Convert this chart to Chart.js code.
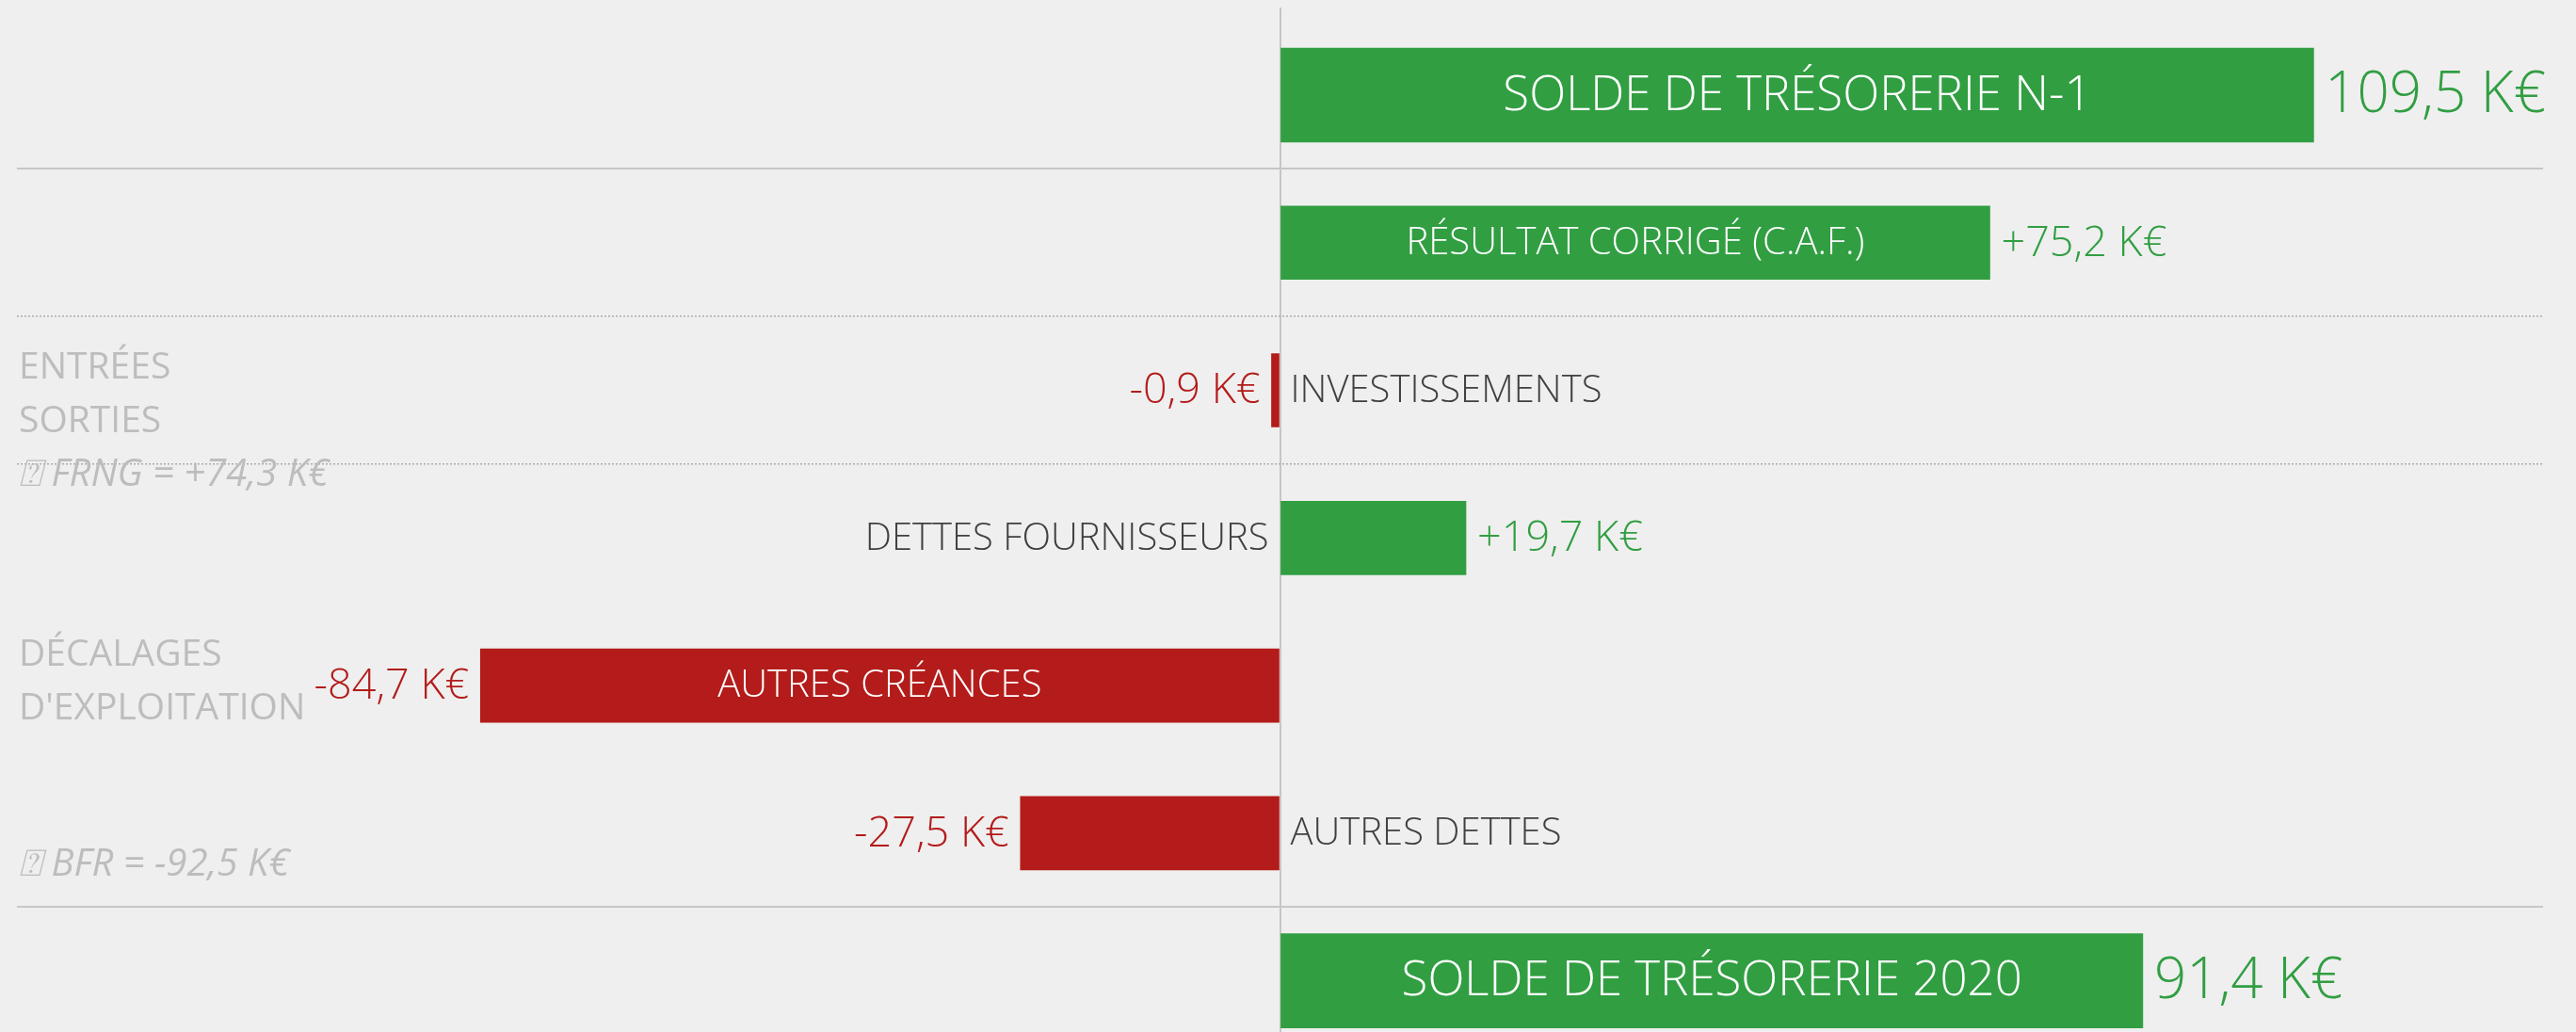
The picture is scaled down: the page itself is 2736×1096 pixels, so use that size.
<!DOCTYPE html>
<html lang="fr">
<head>
<meta charset="utf-8">
<script src="https://cdn.jsdelivr.net/npm/chart.js@4.4.1/dist/chart.umd.min.js"></script>
<style>
    html, body { margin: 0; padding: 0; background: #efefef; overflow: hidden; }
    #wrap { position: relative; width: 2736px; height: 1120px; }
</style>
</head>
<body>
<div id="wrap"><canvas id="myChart"></canvas></div>
<script>
const categories = [
    'SOLDE DE TRÉSORERIE N-1',
    'RÉSULTAT CORRIGÉ (C.A.F.)',
    'INVESTISSEMENTS',
    'DETTES FOURNISSEURS',
    'AUTRES CRÉANCES',
    'AUTRES DETTES',
    'SOLDE DE TRÉSORERIE 2020'
]
// K€
const soldes = [109.5, null, null, null, null, null, 91.4]
const flux = [null, 75.2, -0.9, 19.7, -84.7, -27.5, null]

const notesFrng = ['ENTRÉES', 'SORTIES', '⍰ FRNG = +74,3 K€']
const notesBfr = ['DÉCALAGES', "D'EXPLOITATION"]
const noteBfrTotal = '⍰ BFR = -92,5 K€'

const green = '#319e42'
const red = '#b31c1a'
const lineGray = '#c6c6c6'
const font = '"Open Sans", "Noto Sans", sans-serif'

function fmt(v, signed) {
    const s = Math.abs(v).toFixed(1).replace('.', ',') + ' K€'
    if (!signed) return s
    return (v < 0 ? '-' : '+') + s
}

// category names + values next to / inside the bars
const barLabels = {
    id: 'barLabels',
    afterDatasetsDraw(chart) {
        const ctx = chart.ctx
        ctx.save()
        ctx.textBaseline = 'middle'
        chart.data.datasets.forEach((ds, di) => {
            const total = di === 0
            chart.getDatasetMeta(di).data.forEach((bar, i) => {
                const v = ds.data[i]
                if (v === null || v === undefined) return
                const w = Math.abs(bar.x - bar.base)
                const y = bar.y + 1

                ctx.font = `300 ${total ? 51 : 40}px ${font}`
                if (w > 400) {
                    ctx.fillStyle = '#ffffff'
                    ctx.textAlign = 'center'
                    ctx.fillText(categories[i], (bar.x + bar.base) / 2, y)
                } else if (v < 0) {
                    ctx.fillStyle = '#404040'
                    ctx.textAlign = 'left'
                    ctx.fillText(categories[i], bar.base + 12, y)
                } else {
                    ctx.fillStyle = '#404040'
                    ctx.textAlign = 'right'
                    ctx.fillText(categories[i], bar.base - 13, y)
                }

                ctx.font = `300 ${total ? 60 : 45}px ${font}`
                ctx.fillStyle = v < 0 ? red : green
                if (v < 0) {
                    ctx.textAlign = 'right'
                    ctx.fillText(fmt(v, !total), bar.x - 12, y)
                } else {
                    ctx.textAlign = 'left'
                    ctx.fillText(fmt(v, !total), bar.x + 12, y)
                }
            })
        })

        // grey notes on the left
        const ys = chart.scales.y
        const x0 = 20
        ctx.fillStyle = '#bdbdbd'
        ctx.textAlign = 'left'
        const y2 = ys.getPixelForValue(2)
        notesFrng.forEach((t, k) => {
            ctx.font = k === 2 ? `italic 400 40px ${font}` : `400 39px ${font}`
            ctx.fillText(t, x0, y2 - 24 + k * 57)
        })
        const y4 = ys.getPixelForValue(4)
        notesBfr.forEach((t, k) => {
            ctx.font = `400 39px ${font}`
            ctx.fillText(t, x0, y4 - 32 + k * 57)
        })
        ctx.font = `italic 400 40px ${font}`
        ctx.fillText(noteBfrTotal, x0, ys.getPixelForValue(5) + 34)
        ctx.restore()
    }
}

const canvas = document.getElementById('myChart')

const config = {
    type: 'bar',
    data: {
        labels: categories,
        datasets: [{
            label: 'Soldes',
            data: soldes,
            backgroundColor: green,
            barThickness: 100,
            grouped: false
        }, {
            label: 'Flux',
            data: flux,
            backgroundColor: flux.map(v => v < 0 ? red : green),
            barThickness: 78,
            grouped: false
        }]
    },
    options: {
        indexAxis: 'y',
        responsive: true,
        maintainAspectRatio: false,
        animation: false,
        layout: {
            padding: { top: 8, left: 18, right: 35, bottom: 0 }
        },
        plugins: {
            legend: { display: false },
            tooltip: { enabled: false }
        },
        scales: {
            x: {
                position: 'top',
                min: -133.8,
                max: 133.8,
                afterBuildTicks: (scale) => { scale.ticks = [{ value: 0 }] },
                ticks: { display: false },
                border: { display: false },
                grid: {
                    color: lineGray,
                    lineWidth: 2,
                    drawTicks: true,
                    tickLength: 14.6,
                    tickColor: lineGray,
                    tickWidth: 2
                }
            },
            y: {
                ticks: { display: false },
                border: {
                    display: false,
                    dash: (c) => (c.index === 2 || c.index === 3) ? [2, 2] : []
                },
                grid: {
                    drawTicks: false,
                    color: (c) => {
                        if (c.index === 1 || c.index === 6) return lineGray
                        if (c.index === 2 || c.index === 3) return '#acacac'
                        return 'rgba(0,0,0,0)'
                    },
                    lineWidth: (c) => (c.index === 1 || c.index === 6) ? 2 : 1.5
                }
            }
        }
    },
    plugins: [barLabels]
}

const myChart = new Chart(canvas, config)
</script>
</body>
</html>
